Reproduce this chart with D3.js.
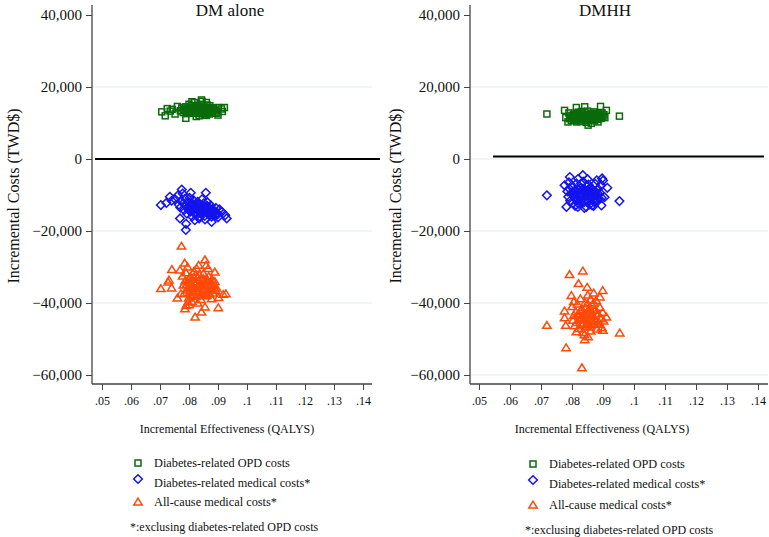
<!DOCTYPE html>
<html><head><meta charset="utf-8">
<script src="https://cdn.jsdelivr.net/npm/d3@7"></script>
<style>body{margin:0;background:#fff}svg{display:block}</style>
</head><body><svg id="c" width="769" height="537"></svg>
<script>
const panelTitles = ["DM alone", "DMHH"];
const seriesNames = ["Diabetes-related OPD costs", "Diabetes-related medical costs*", "All-cause medical costs*"];
const footnote = "*:exclusing diabetes-related OPD costs";
const yTicks = [40000, 20000, 0, -20000, -40000, -60000];
const xTicks = [0.05, 0.06, 0.07, 0.08, 0.09, 0.10, 0.11, 0.12, 0.13, 0.14];
const xTickLabels = [".05", ".06", ".07", ".08", ".09", ".1", ".11", ".12", ".13", ".14"];

const dmOpd = [[0.0706,13100],[0.0718,12000],[0.0725,14000],[0.0735,13300],[0.0742,13800],[0.0752,12500],[0.0760,14600],[0.0789,11300],[0.0800,15200],[0.0810,15900],[0.0818,15700],[0.0843,16400],[0.0845,16000],[0.0860,15700],[0.0872,14800],[0.0885,14200],[0.0900,12200],[0.0912,13900],[0.0915,13200],[0.0922,14300],[0.0900,14300],[0.0835,12000],[0.0825,11800],[0.0860,12100],[0.0870,12500],
[0.0770,13400],[0.0775,14200],[0.0780,12900],[0.0783,13800],[0.0788,14500],[0.0790,13100],[0.0792,12600],[0.0795,14000],[0.0798,13500],[0.0800,12800],[0.0803,14300],[0.0805,13300],[0.0808,14800],[0.0810,12700],[0.0812,13900],[0.0815,13400],[0.0818,14600],[0.0820,12900],[0.0822,13700],[0.0825,14200],[0.0828,13000],[0.0830,14900],[0.0832,13500],[0.0835,12600],[0.0838,14100],[0.0840,13300],[0.0842,15200],[0.0845,12800],[0.0848,13800],[0.0850,14400],[0.0852,13100],[0.0855,12500],[0.0858,14000],[0.0860,13600],[0.0862,15000],[0.0865,13200],[0.0868,14300],[0.0870,12900],[0.0872,13700],[0.0875,14100],[0.0878,13300],[0.0880,12800],[0.0883,13900],[0.0886,13400],[0.0890,13000],[0.0893,13600],[0.0896,12700],[0.0817,13100],[0.0827,14000],[0.0837,13700],[0.0847,12600],[0.0857,13800],[0.0867,13900],[0.0806,13600],[0.0796,12900],
[0.0801,13900],[0.0811,13500],[0.0821,14300],[0.0831,13200],[0.0841,14000],[0.0851,13600],[0.0861,14200],[0.0871,13400],[0.0881,13700],[0.0813,12900],[0.0823,13400],[0.0833,13900],[0.0843,13500],[0.0853,13000],[0.0863,13800],[0.0873,13100],[0.0819,14000],[0.0839,12900],[0.0849,14200],[0.0859,13300]];

const dmMed = [[0.0703,-12800],[0.0722,-12200],[0.0734,-10500],[0.0740,-11600],[0.0752,-11200],[0.0762,-10100],[0.0775,-8500],[0.0778,-9600],[0.0806,-9400],[0.0858,-9400],[0.0789,-19700],[0.0790,-18000],[0.0769,-16500],[0.0930,-16500],[0.0925,-15600],[0.0913,-14700],[0.0878,-17500],[0.0838,-16100],[0.0855,-16800],[0.0820,-17000],[0.0900,-16200],[0.0905,-14000],
[0.0765,-12700],[0.0770,-13500],[0.0772,-11600],[0.0780,-12300],[0.0783,-14200],[0.0787,-11000],[0.0790,-13000],[0.0793,-15200],[0.0796,-12000],[0.0800,-13800],[0.0802,-10800],[0.0805,-14600],[0.0808,-12500],[0.0811,-16000],[0.0813,-13300],[0.0816,-11500],[0.0819,-14900],[0.0822,-12800],[0.0825,-15600],[0.0828,-13600],[0.0830,-11900],[0.0833,-14300],[0.0836,-12600],[0.0839,-15100],[0.0842,-13100],[0.0845,-11200],[0.0848,-14500],[0.0851,-12300],[0.0854,-15800],[0.0857,-13400],[0.0860,-14100],[0.0863,-12000],[0.0866,-15300],[0.0869,-13700],[0.0872,-14800],[0.0875,-12900],[0.0878,-16000],[0.0881,-13900],[0.0884,-15200],[0.0887,-14400],[0.0890,-15700],[0.0893,-13600],[0.0896,-14900],[0.0899,-15400],[0.0815,-13900],[0.0827,-14000],[0.0845,-13800],[0.0858,-14600],[0.0798,-14100],[0.0835,-16500],
[0.0804,-12900],[0.0814,-12600],[0.0824,-13300],[0.0834,-13800],[0.0844,-14200],[0.0854,-13700],[0.0864,-14500],[0.0874,-14000],[0.0884,-14700],[0.0818,-13600],[0.0828,-12700],[0.0838,-13400],[0.0848,-13000],[0.0858,-13300],[0.0868,-14800],[0.0878,-14900],[0.0809,-13700],[0.0840,-14700],[0.0862,-13000],[0.0880,-15400]];

const dmAll = [[0.0774,-24200],[0.0703,-36000],[0.0728,-34200],[0.0731,-33600],[0.0741,-30700],[0.0740,-35800],[0.0821,-43900],[0.0843,-42500],[0.0901,-41300],[0.0927,-37400],[0.0918,-37600],[0.0855,-28000],[0.0859,-29500],[0.0785,-28900],[0.0826,-30400],[0.0889,-31400],[0.0866,-30400],[0.0769,-30800],[0.0786,-41600],[0.0790,-40700],[0.0797,-39700],[0.0902,-38500],[0.0855,-41100],[0.0878,-38800],[0.0760,-38600],[0.0772,-37400],
[0.0778,-32500],[0.0781,-35000],[0.0784,-37200],[0.0787,-33800],[0.0790,-31600],[0.0793,-36400],[0.0796,-34200],[0.0799,-38600],[0.0802,-32900],[0.0805,-35700],[0.0808,-37900],[0.0811,-33400],[0.0814,-36800],[0.0817,-31200],[0.0820,-34600],[0.0823,-38200],[0.0826,-35900],[0.0829,-33000],[0.0832,-37000],[0.0835,-32200],[0.0838,-35300],[0.0841,-39000],[0.0844,-33700],[0.0847,-36200],[0.0850,-31800],[0.0853,-34900],[0.0856,-38000],[0.0859,-33200],[0.0862,-36600],[0.0865,-35000],[0.0868,-32600],[0.0871,-37500],[0.0874,-34100],[0.0877,-36000],[0.0880,-33500],[0.0883,-37200],[0.0886,-35200],[0.0889,-34000],[0.0892,-36500],[0.0895,-35800],[0.0800,-40500],[0.0810,-39500],[0.0830,-40000],[0.0800,-36000],[0.0815,-34000],[0.0845,-37500],[0.0795,-30000],[0.0833,-29500],
[0.0798,-33500],[0.0806,-34500],[0.0812,-35500],[0.0818,-33000],[0.0824,-36500],[0.0828,-34200],[0.0834,-35800],[0.0840,-34600],[0.0846,-35000],[0.0852,-36800],[0.0858,-35400],[0.0864,-33800],[0.0870,-35700],[0.0876,-34800],[0.0803,-37000],[0.0816,-37600],[0.0836,-37800],[0.0849,-33200],[0.0861,-37900],[0.0881,-36200],[0.0792,-34800],[0.0822,-32200]];

const hhOpd = [[0.0719,12500],[0.0953,11900],[0.0776,13500],[0.0814,14300],[0.0841,14500],[0.0892,14600],[0.0911,13500],[0.0862,9900],[0.0852,9400],[0.0787,10300],[0.0884,10300],[0.0780,11500],[0.0790,12800],
[0.0792,11200],[0.0795,12000],[0.0798,10700],[0.0801,11700],[0.0804,12400],[0.0807,11000],[0.0810,12100],[0.0813,10600],[0.0816,11500],[0.0819,12700],[0.0822,11100],[0.0825,12000],[0.0828,10400],[0.0831,11800],[0.0834,12500],[0.0837,10900],[0.0840,11600],[0.0843,12300],[0.0846,10200],[0.0849,11300],[0.0852,12100],[0.0855,10800],[0.0858,11900],[0.0861,12700],[0.0864,11000],[0.0867,11700],[0.0870,12400],[0.0873,10600],[0.0876,11400],[0.0879,12200],[0.0882,11000],[0.0885,12600],[0.0888,11600],[0.0891,12100],[0.0894,11300],[0.0897,12800],[0.0900,11800],[0.0903,12300],[0.0906,11500],[0.0830,13200],[0.0850,13300],[0.0870,13100],[0.0820,13000],[0.0845,10600],[0.0815,10300],
[0.0803,11300],[0.0809,11800],[0.0815,11100],[0.0821,11700],[0.0827,11300],[0.0833,11600],[0.0839,11200],[0.0845,11800],[0.0851,11500],[0.0857,11100],[0.0863,11700],[0.0869,11300],[0.0875,11900],[0.0881,11500],[0.0887,11200],[0.0812,12300],[0.0836,12000],[0.0856,12300],[0.0878,12700],[0.0825,10900]];

const hhMed = [[0.0719,-10100],[0.0953,-11700],[0.0776,-7300],[0.0782,-13300],[0.0819,-13300],[0.0846,-13300],[0.0895,-12900],[0.0914,-8000],[0.0905,-10600],[0.0835,-4500],[0.0897,-5400],[0.0793,-5000],[0.0900,-6000],[0.0790,-6500],[0.0870,-13000],
[0.0785,-9000],[0.0788,-10500],[0.0791,-8200],[0.0794,-11600],[0.0797,-9600],[0.0800,-7400],[0.0803,-12200],[0.0806,-10100],[0.0809,-8700],[0.0812,-11200],[0.0815,-6800],[0.0818,-9300],[0.0821,-12400],[0.0824,-10700],[0.0827,-8100],[0.0830,-11500],[0.0833,-9900],[0.0836,-6300],[0.0839,-12000],[0.0842,-8800],[0.0845,-10400],[0.0848,-7600],[0.0851,-11800],[0.0854,-9200],[0.0857,-12600],[0.0860,-7900],[0.0863,-10900],[0.0866,-8500],[0.0869,-11300],[0.0872,-9700],[0.0875,-6900],[0.0878,-12100],[0.0881,-10000],[0.0884,-8300],[0.0887,-11000],[0.0890,-9400],[0.0893,-7200],[0.0896,-10800],[0.0880,-5900],[0.0850,-5600],[0.0820,-5500],[0.0810,-13000],[0.0840,-13600],[0.0865,-12900],
[0.0802,-9200],[0.0808,-10600],[0.0814,-9800],[0.0820,-8500],[0.0826,-10200],[0.0832,-9000],[0.0838,-10800],[0.0844,-9500],[0.0850,-8700],[0.0856,-10300],[0.0862,-9300],[0.0868,-10500],[0.0874,-8900],[0.0880,-11200],[0.0886,-9800],[0.0817,-11600],[0.0835,-8200],[0.0847,-11500],[0.0859,-8400],[0.0871,-11900],[0.0829,-6900],[0.0853,-7100]];

const hhAll = [[0.0719,-46200],[0.0954,-48300],[0.0781,-52400],[0.0832,-58000],[0.0835,-31100],[0.0792,-32100],[0.0821,-34600],[0.0899,-36500],[0.0798,-37900],[0.0776,-42200],[0.0776,-44100],[0.0780,-46200],[0.0849,-35600],[0.0806,-43400],[0.0911,-43900],[0.0900,-47600],[0.0852,-49400],[0.0841,-50200],[0.0814,-48000],[0.0890,-38300],[0.0870,-37200],
[0.0800,-41000],[0.0803,-44800],[0.0806,-39600],[0.0809,-46300],[0.0812,-42400],[0.0815,-45400],[0.0818,-40300],[0.0821,-47100],[0.0824,-43300],[0.0827,-38800],[0.0830,-45900],[0.0833,-41800],[0.0836,-48200],[0.0839,-44000],[0.0842,-39900],[0.0845,-46700],[0.0848,-42900],[0.0851,-37800],[0.0854,-45100],[0.0857,-41400],[0.0860,-47800],[0.0863,-43700],[0.0866,-40600],[0.0869,-46000],[0.0872,-42100],[0.0875,-44600],[0.0878,-39300],[0.0881,-47200],[0.0884,-43000],[0.0887,-45300],[0.0890,-41200],[0.0893,-44400],[0.0896,-46800],[0.0899,-42600],[0.0902,-45000],[0.0845,-44500],[0.0855,-43000],[0.0835,-43500],[0.0865,-45000],[0.0825,-44500],[0.0860,-39000],[0.0840,-48800],
[0.0828,-42000],[0.0832,-44200],[0.0838,-42800],[0.0843,-41200],[0.0847,-43800],[0.0851,-45600],[0.0853,-41900],[0.0858,-44300],[0.0862,-42300],[0.0867,-43400],[0.0871,-45600],[0.0874,-41700],[0.0879,-44900],[0.0850,-40200],[0.0844,-46100],[0.0836,-45800],[0.0858,-46600],[0.0870,-39900],[0.0820,-43000],[0.0883,-45900]];

const colors = ["#0a6b0a", "#1414f0", "#ff4a0a"];
const symbols = ["square", "diamond", "triangle"];
const SERIF = '"Liberation Serif", "DejaVu Serif", serif';

const svg = d3.select("#c");

function marker(g, type, color) {
  if (type === "square") return g.append("rect").attr("x", -3).attr("y", -3).attr("width", 6).attr("height", 6)
    .attr("fill", "none").attr("stroke", color).attr("stroke-width", 1.5);
  if (type === "diamond") return g.append("path").attr("d", "M0,-4.3L4.3,0L0,4.3L-4.3,0Z")
    .attr("fill", "none").attr("stroke", color).attr("stroke-width", 1.5);
  return g.append("path").attr("d", "M0,-3.8L4.2,3L-4.2,3Z")
    .attr("fill", "none").attr("stroke", color).attr("stroke-width", 1.5);
}

function txt(g) { return g.append("text").style("font-family", SERIF).attr("fill", "#111"); }

const panels = [
  {title: panelTitles[0], axisX: 92, xr: [102, 363], xEnd: 372, cx: 230, zeroX: [95, 380], zeroOff: 0,
   ylabX: 13, grid: [20000, -20000, -40000], data: [dmOpd, dmMed, dmAll], legX: 138, legY: [463, 483, 502], footX: 130, footY: 527},
  {title: panelTitles[1], axisX: 470, xr: [479, 758], xEnd: 768, cx: 605, zeroX: [493, 764], zeroOff: -2.5,
   ylabX: 395, grid: [20000, 0, -20000, -40000, -60000], data: [hhOpd, hhMed, hhAll], legX: 533, legY: [464, 484, 505], footX: 525, footY: 530}
];

panels.forEach(p => {
  const g = svg.append("g");
  const x = d3.scaleLinear().domain([0.05, 0.14]).range(p.xr);
  const y = d3.scaleLinear().domain([-60000, 40000]).range([375, 15]);
  const axisY = 384;

  g.selectAll(".grid").data(p.grid).join("line")
    .attr("x1", p.axisX).attr("x2", p.xEnd).attr("y1", d => y(d)).attr("y2", d => y(d))
    .attr("stroke", "#e6edf1").attr("stroke-width", 1.2);

  g.append("line").attr("x1", p.zeroX[0]).attr("x2", p.zeroX[1])
    .attr("y1", y(0) + p.zeroOff).attr("y2", y(0) + p.zeroOff).attr("stroke", "#000").attr("stroke-width", 2);

  const ya = g.append("g").attr("transform", `translate(${p.axisX},0)`)
    .call(d3.axisLeft(y).tickValues(yTicks).tickSize(6).tickPadding(4).tickFormat(d3.format(",")));
  ya.attr("font-family", SERIF).attr("font-size", 15);
  ya.select(".domain").attr("d", `M0,5V${axisY}`).attr("stroke", "#444").attr("stroke-width", 1.3);
  ya.selectAll(".tick line").attr("stroke", "#444");
  ya.selectAll("text").style("font-family", SERIF).style("font-size", "15px").attr("fill", "#111");

  const xa = g.append("g").attr("transform", `translate(0,${axisY})`)
    .call(d3.axisBottom(x).tickValues(xTicks).tickSize(6).tickPadding(6).tickFormat((d, i) => xTickLabels[i]));
  xa.attr("font-family", SERIF).attr("font-size", 12);
  xa.select(".domain").attr("d", `M${p.axisX},0H${p.xEnd}`).attr("stroke", "#444").attr("stroke-width", 1.3);
  xa.selectAll(".tick line").attr("stroke", "#444");
  xa.selectAll("text").style("font-family", SERIF).style("font-size", "12px").attr("fill", "#111");

  txt(g).attr("x", p.cx).attr("y", 16).attr("text-anchor", "middle").style("font-size", "17px").text(p.title);
  txt(g).attr("transform", `translate(${p.ylabX},196) rotate(-90)`).attr("text-anchor", "middle")
    .attr("dy", "0.35em").style("font-size", "16px").text("Incremental Costs (TWD$)");
  txt(g).attr("x", p.cx - 3).attr("y", 433).attr("text-anchor", "middle").style("font-size", "12px")
    .text("Incremental Effectiveness (QALYS)");

  p.data.forEach((ser, si) => {
    ser.forEach(d => {
      const m = g.append("g").attr("transform", `translate(${x(d[0])},${y(d[1])})`);
      marker(m, symbols[si], colors[si]);
    });
  });

  seriesNames.forEach((nm, i) => {
    const m = g.append("g").attr("transform", `translate(${p.legX},${p.legY[i] - (i === 1 ? 4 : 0)})`);
    marker(m, symbols[i], colors[i]);
    txt(g).attr("x", p.legX + 16).attr("y", p.legY[i]).attr("dy", "0.35em").style("font-size", "12.3px").text(nm);
  });
  txt(g).attr("x", p.footX).attr("y", p.footY).attr("dy", "0.35em").style("font-size", "12px").text(footnote);
});
</script></body></html>
